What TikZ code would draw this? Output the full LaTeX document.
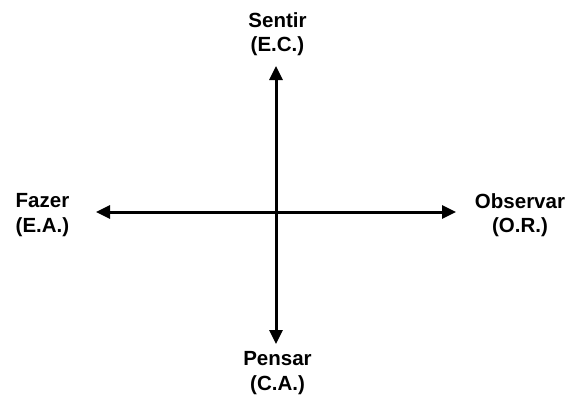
\documentclass[tikz,border=0pt]{standalone}
\usepackage{fontspec}
\setmainfont{Liberation Sans}
\usetikzlibrary{arrows.meta}
\begin{document}
\begin{tikzpicture}[x=1pt,y=-1pt,
  lbl/.style={font=\fontsize{20.5}{24.5}\selectfont\bfseries, align=center, inner sep=0pt},
  axis/.style={line width=3pt, {Triangle[length=14pt,width=13pt]}-{Triangle[length=14pt,width=13pt]}}]
\useasboundingbox (0,0) rectangle (569,399);
\coordinate (top) at (276,66);
\coordinate (bot) at (276,344);
\coordinate (lft) at (96,212);
\coordinate (rgt) at (456,212);
\draw[axis] (top) -- (bot);
\draw[axis] (lft) -- (rgt);
\node[lbl] (s) at (277.5,34) {Sentir\\(E.C.)};
\node[lbl] (f) at (42.5,215) {Fazer\\(E.A.)};
\node[lbl] (o) at (520,215) {Observar\\(O.R.)};
\node[lbl] (p) at (277.5,373) {Pensar\\(C.A.)};
\end{tikzpicture}
\end{document}
